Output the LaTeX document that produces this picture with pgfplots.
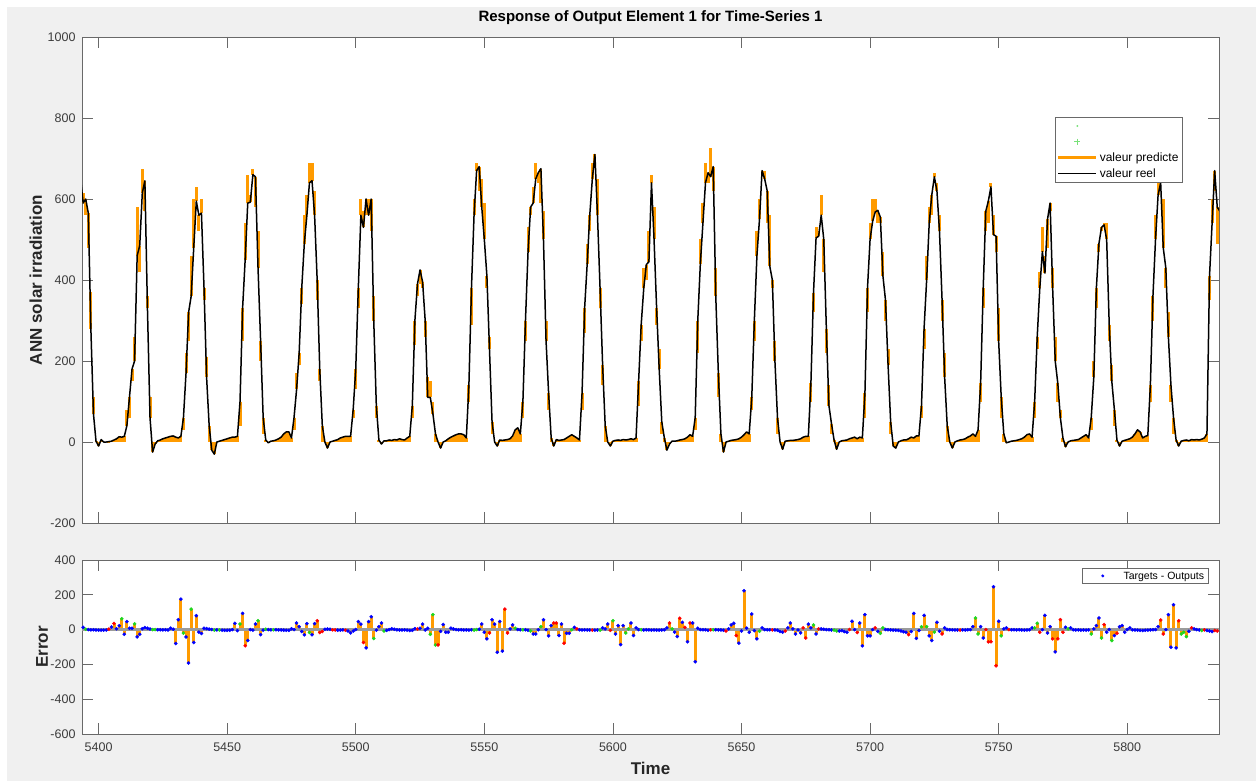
\documentclass[border=0pt]{standalone}
\usepackage{pgfplots}
\pgfplotsset{compat=1.18}
\usepackage{pgfplotstable}
\usepackage{fontspec}
\setmainfont{Liberation Sans}
\definecolor{orangeC}{RGB}{255,155,0}
\definecolor{bgC}{RGB}{240,240,240}
\definecolor{axC}{RGB}{105,105,105}
\definecolor{tkC}{RGB}{60,60,60}
\definecolor{zC}{RGB}{155,155,155}
\definecolor{gC}{RGB}{30,215,30}
\definecolor{lgC}{RGB}{120,225,120}

\pgfplotstableread{
t y p
5393 650 620
5394 590 615
5395 600 560
5396 565 480
5397 280 370
5398 70 110
5399 2 0
5400 -10 0
5401 6 0
5402 0 0
5403 0 0
5404 1 0
5405 2 0
5406 5 0
5407 8 0
5408 13 0
5409 12 0
5410 14 0
5411 40 80
5412 110 60
5413 180 150
5414 200 260
5415 460 580
5416 485 420
5417 615 675
5418 645 570
5419 330 360
5420 60 110
5421 -25 0
5422 -5 0
5423 3 0
5424 5 0
5425 8 0
5426 10 0
5427 12 0
5428 14 0
5429 15 0
5430 12 0
5431 10 0
5432 14 0
5433 60 30
5434 170 220
5435 320 250
5436 360 460
5437 480 600
5438 595 630
5439 560 520
5440 565 600
5441 380 350
5442 160 210
5443 40 0
5444 -20 0
5445 -30 0
5446 0 0
5447 2 0
5448 4 0
5449 6 0
5450 8 0
5451 10 0
5452 12 0
5453 12 0
5454 14 0
5455 100 40
5456 330 250
5457 450 540
5458 590 660
5459 592 610
5460 660 675
5461 655 580
5462 430 520
5463 250 200
5464 60 20
5465 5 0
5466 -2 0
5467 2 0
5468 3 0
5469 5 0
5470 8 0
5471 12 0
5472 20 0
5473 25 0
5474 25 0
5475 10 0
5476 60 30
5477 130 170
5478 220 190
5479 380 340
5480 490 560
5481 560 610
5482 640 690
5483 645 690
5484 560 620
5485 400 350
5486 180 150
5487 40 0
5488 0 0
5489 -15 0
5490 0 0
5491 2 0
5492 4 0
5493 6 0
5494 10 0
5495 12 0
5496 14 0
5497 14 0
5498 14 0
5499 80 60
5500 180 130
5501 380 330
5502 560 600
5503 530 570
5504 600 560
5505 560 600
5506 600 520
5507 300 360
5508 90 60
5509 5 0
5510 -5 0
5511 3 0
5512 3 0
5513 5 0
5514 4 0
5515 6 0
5516 5 0
5517 8 0
5518 6 0
5519 5 0
5520 10 0
5521 14 0
5522 90 60
5523 300 240
5524 390 360
5525 425 390
5526 395 380
5527 300 260
5528 110 160
5529 110 150
5530 70 100
5531 20 0
5532 0 0
5533 -15 0
5534 0 0
5535 3 0
5536 8 0
5537 12 0
5538 15 0
5539 18 0
5540 20 0
5541 20 0
5542 18 0
5543 10 0
5544 140 100
5545 380 290
5546 560 600
5547 670 690
5548 680 620
5549 580 650
5550 500 590
5551 410 380
5552 230 260
5553 50 20
5554 0 0
5555 -10 0
5556 5 0
5557 4 0
5558 5 0
5559 6 0
5560 8 0
5561 15 0
5562 30 0
5563 35 0
5564 20 0
5565 100 60
5566 300 250
5567 470 530
5568 580 560
5569 590 630
5570 650 690
5571 665 640
5572 675 590
5573 500 570
5574 250 300
5575 120 80
5576 10 0
5577 -10 0
5578 6 0
5579 4 0
5580 5 0
5581 6 0
5582 10 0
5583 14 0
5584 18 0
5585 14 0
5586 10 0
5587 5 0
5588 120 80
5589 330 270
5590 440 490
5591 560 520
5592 650 690
5593 710 680
5594 560 650
5595 380 330
5596 190 140
5597 40 0
5598 0 0
5599 -10 0
5600 2 0
5601 4 0
5602 5 0
5603 4 0
5604 6 0
5605 5 0
5606 6 0
5607 8 0
5608 6 0
5609 10 0
5610 150 90
5611 290 250
5612 380 430
5613 438 400
5614 445 520
5615 640 660
5616 500 580
5617 330 290
5618 180 230
5619 50 20
5620 10 0
5621 -20 0
5622 -5 0
5623 2 0
5624 2 0
5625 3 0
5626 5 0
5627 6 0
5628 8 0
5629 12 0
5630 18 0
5631 14 0
5632 60 30
5633 300 220
5634 440 500
5635 540 590
5636 640 690
5637 665 640
5638 655 725
5639 680 620
5640 360 430
5641 170 110
5642 20 0
5643 -25 0
5644 0 0
5645 2 0
5646 4 0
5647 5 0
5648 6 0
5649 8 0
5650 12 0
5651 18 0
5652 25 0
5653 20 0
5654 110 80
5655 300 250
5656 460 520
5657 550 600
5658 670 660
5659 650 670
5660 620 540
5661 434 560
5662 400 380
5663 200 250
5664 60 20
5665 0 0
5666 -18 0
5667 2 0
5668 3 0
5669 4 0
5670 4 0
5671 5 0
5672 6 0
5673 8 0
5674 12 0
5675 14 0
5676 14 0
5677 146 100
5678 368 320
5679 504 530
5680 508 520
5681 560 610
5682 500 420
5683 280 220
5684 90 140
5685 45 20
5686 5 0
5687 -18 0
5688 0 0
5689 3 0
5690 4 0
5691 5 0
5692 8 0
5693 10 0
5694 12 0
5695 8 0
5696 12 0
5697 10 0
5698 120 60
5699 380 320
5700 500 540
5701 545 600
5702 568 600
5703 572 540
5704 555 540
5705 410 470
5706 350 300
5707 190 230
5708 50 20
5709 -10 0
5710 -15 0
5711 0 0
5712 3 0
5713 5 0
5714 5 0
5715 8 0
5716 12 0
5717 10 0
5718 15 0
5719 15 0
5720 90 60
5721 280 230
5722 400 460
5723 540 580
5724 610 560
5725 655 665
5726 620 640
5727 520 560
5728 350 300
5729 160 220
5730 40 0
5731 0 0
5732 -15 0
5733 0 0
5734 3 0
5735 5 0
5736 6 0
5737 8 0
5738 12 0
5739 15 0
5740 20 0
5741 14 0
5742 30 0
5743 146 100
5744 380 330
5745 570 520
5746 595 540
5747 630 640
5748 512 560
5749 508 470
5750 250 330
5751 110 60
5752 20 0
5753 -2 0
5754 0 0
5755 2 0
5756 3 0
5757 4 0
5758 6 0
5759 8 0
5760 12 0
5761 18 0
5762 20 0
5763 12 0
5764 100 60
5765 260 230
5766 380 420
5767 470 530
5768 417 460
5769 550 480
5770 590 570
5771 380 430
5772 200 260
5773 145 100
5774 60 80
5775 10 0
5776 -12 0
5777 0 0
5778 3 0
5779 4 0
5780 5 0
5781 6 0
5782 10 0
5783 14 0
5784 18 0
5785 10 0
5786 60 30
5787 160 200
5788 380 330
5789 490 470
5790 530 520
5791 536 540
5792 500 540
5793 290 250
5794 150 190
5795 80 40
5796 5 0
5797 -10 0
5798 2 0
5799 4 0
5800 6 0
5801 8 0
5802 12 0
5803 20 0
5804 30 0
5805 25 0
5806 10 0
5807 14 0
5808 16 0
5809 140 100
5810 360 300
5811 500 560
5812 610 640
5813 640 660
5814 480 600
5815 430 380
5816 260 320
5817 140 100
5818 60 20
5819 5 0
5820 -10 0
5821 2 0
5822 4 0
5823 5 0
5824 3 0
5825 6 0
5826 5 0
5827 6 0
5828 5 0
5829 7 0
5830 10 0
5831 20 0
5832 410 350
5833 540 600
5834 670 620
5835 580 490
5836 570 580
}\topdata

\pgfplotstableread{
t e c
5393 15 b
5394 13 b
5395 2 g
5396 0 b
5397 -1 b
5398 -1 b
5399 -2 b
5400 -3 b
5401 -3 b
5402 -3 b
5403 -2 b
5404 3 r
5405 15 b
5406 35 r
5407 5 b
5408 22 b
5409 62 g
5410 -27 b
5411 46 b
5412 8 b
5413 8 b
5414 33 g
5415 -42 b
5416 -27 b
5417 5 b
5418 12 b
5419 8 b
5420 3 b
5421 0 g
5422 0 g
5423 -1 b
5424 -1 b
5425 -2 b
5426 -1 b
5427 -2 b
5428 8 b
5429 2 b
5430 -80 b
5431 57 b
5432 175 b
5433 -20 g
5434 -42 b
5435 -192 b
5436 118 g
5437 -74 b
5438 80 b
5439 -15 b
5440 -22 b
5441 8 b
5442 6 b
5443 3 b
5444 0 b
5445 -3 g
5446 -2 b
5447 -2 g
5448 -3 b
5449 -4 b
5450 -4 b
5451 -4 b
5452 0 b
5453 36 b
5454 -6 b
5455 32 g
5456 93 b
5457 -93 r
5458 -63 b
5459 0 b
5460 -3 b
5461 32 b
5462 51 g
5463 -29 b
5464 -3 b
5465 2 g
5466 0 b
5467 -1 b
5468 -1 g
5469 -1 b
5470 -2 b
5471 -2 b
5472 -3 b
5473 -4 b
5474 -4 b
5475 5 b
5476 0 b
5477 38 b
5478 17 b
5479 -11 b
5480 -30 b
5481 34 b
5482 -17 g
5483 -30 b
5484 34 b
5485 51 r
5486 -17 r
5487 -11 r
5488 2 b
5489 3 b
5490 2 b
5491 -1 r
5492 -2 r
5493 -3 b
5494 -3 b
5495 -2 b
5496 -4 r
5497 -8 b
5498 -19 b
5499 -8 b
5500 0 b
5501 46 b
5502 32 b
5503 -74 r
5504 -105 b
5505 46 b
5506 74 b
5507 -51 g
5508 -3 b
5509 17 b
5510 38 b
5511 -8 g
5512 -4 b
5513 0 b
5514 5 b
5515 2 b
5516 -1 b
5517 -2 b
5518 -2 b
5519 -2 b
5520 -3 b
5521 -5 b
5522 -4 b
5523 5 b
5524 3 r
5525 8 b
5526 32 b
5527 -2 b
5528 8 b
5529 -27 g
5530 86 g
5531 -88 g
5532 -88 r
5533 -10 b
5534 29 b
5535 -15 b
5536 -15 b
5537 8 b
5538 4 b
5539 0 b
5540 -1 b
5541 -1 b
5542 -2 b
5543 -2 b
5544 -3 b
5545 -1 b
5546 -3 g
5547 0 g
5548 2 b
5549 32 b
5550 -15 b
5551 -53 b
5552 -19 r
5553 57 b
5554 32 b
5555 -130 b
5556 46 b
5557 -124 b
5558 118 r
5559 -19 r
5560 4 b
5561 27 b
5562 8 g
5563 0 b
5564 -1 b
5565 -1 g
5566 -1 b
5567 -4 b
5568 -8 g
5569 -25 b
5570 -25 b
5571 -1 b
5572 17 g
5573 57 b
5574 0 b
5575 -36 b
5576 23 b
5577 38 r
5578 38 r
5579 -34 b
5580 32 b
5581 -78 r
5582 -21 b
5583 -21 b
5584 -1 g
5585 13 b
5586 4 r
5587 -1 b
5588 -2 b
5589 -1 b
5590 -2 b
5591 -2 b
5592 -3 r
5593 -3 b
5594 -2 b
5595 -3 g
5596 10 b
5597 4 b
5598 32 b
5599 -4 r
5600 51 g
5601 -25 b
5602 23 b
5603 -86 b
5604 23 b
5605 -19 g
5606 4 g
5607 38 b
5608 -34 b
5609 10 b
5610 0 b
5611 -1 g
5612 -2 b
5613 -1 b
5614 -2 b
5615 -3 b
5616 -2 b
5617 -3 b
5618 -3 b
5619 -2 b
5620 -1 b
5621 10 b
5622 38 r
5623 4 g
5624 -15 b
5625 -40 b
5626 65 r
5627 42 b
5628 13 r
5629 -70 b
5630 38 r
5631 38 b
5632 -185 b
5633 8 b
5634 0 b
5635 -1 b
5636 -1 b
5637 -4 b
5638 -1 r
5639 -1 g
5640 -1 b
5641 -2 b
5642 -2 b
5643 -4 b
5644 -8 r
5645 4 b
5646 27 b
5647 36 b
5648 -34 r
5649 -78 b
5650 -8 b
5651 223 b
5652 8 b
5653 -15 b
5654 90 b
5655 -6 b
5656 -53 b
5657 -10 g
5658 10 b
5659 0 b
5660 -1 b
5661 -1 b
5662 -2 r
5663 -2 b
5664 -4 b
5665 -11 b
5666 -15 b
5667 -8 r
5668 10 b
5669 38 b
5670 4 b
5671 -25 b
5672 -2 b
5673 -19 b
5674 10 r
5675 -48 r
5676 32 b
5677 10 b
5678 27 g
5679 -25 b
5680 4 r
5681 4 b
5682 2 b
5683 0 b
5684 -1 b
5685 -2 b
5686 -3 g
5687 -8 g
5688 -8 b
5689 -6 b
5690 -11 b
5691 -15 b
5692 0 r
5693 48 b
5694 0 b
5695 -17 r
5696 38 b
5697 -93 b
5698 86 b
5699 -36 b
5700 -36 b
5701 0 b
5702 10 r
5703 -10 b
5704 -21 g
5705 10 g
5706 0 b
5707 -1 b
5708 -2 b
5709 -3 b
5710 -4 b
5711 -5 b
5712 -8 b
5713 -12 b
5714 -15 b
5715 -29 r
5716 -11 b
5717 93 b
5718 -50 b
5719 -5 b
5720 17 g
5721 82 b
5722 17 g
5723 -36 b
5724 -63 b
5725 -15 g
5726 42 b
5727 -10 b
5728 -25 r
5729 10 b
5730 0 b
5731 -1 b
5732 -1 b
5733 -2 b
5734 -2 b
5735 -3 r
5736 -2 b
5737 -2 b
5738 -1 b
5739 0 b
5740 17 b
5741 67 g
5742 -25 g
5743 17 b
5744 -48 b
5745 0 r
5746 -70 r
5747 -70 r
5748 246 b
5749 -208 r
5750 48 b
5751 -36 g
5752 4 b
5753 10 b
5754 0 r
5755 -1 b
5756 -1 b
5757 -2 b
5758 -1 b
5759 -2 b
5760 -3 b
5761 -2 b
5762 -1 b
5763 10 b
5764 10 g
5765 36 g
5766 -15 r
5767 0 b
5768 82 b
5769 -19 b
5770 17 b
5771 -53 r
5772 -128 b
5773 -53 r
5774 57 r
5775 -15 r
5776 13 b
5777 4 g
5778 10 b
5779 -1 b
5780 -2 b
5781 -2 b
5782 -3 b
5783 -2 b
5784 -3 b
5785 -2 b
5786 -25 g
5787 4 b
5788 23 b
5789 67 b
5790 -48 g
5791 29 r
5792 -15 b
5793 0 b
5794 -63 g
5795 -34 b
5796 -21 r
5797 17 b
5798 23 b
5799 -15 b
5800 0 b
5801 10 b
5802 -1 b
5803 -2 b
5804 -3 b
5805 -4 b
5806 -5 b
5807 -4 b
5808 -3 b
5809 -2 b
5810 -1 b
5811 0 b
5812 17 b
5813 55 r
5814 -25 r
5815 0 b
5816 86 b
5817 -101 b
5818 143 b
5819 -105 b
5820 51 r
5821 -25 g
5822 -15 g
5823 -40 g
5824 -10 b
5825 10 r
5826 4 b
5827 0 b
5828 -2 b
5829 -5 g
5830 -2 r
5831 -5 b
5832 -8 b
5833 -11 b
5834 -5 r
5835 -8 r
}\errdata

\pgfplotsset{
  common/.style={
    scale only axis, width=1137pt,
    xmin=5393.55, xmax=5835.7,
    xtick={5400,5450,...,5800},
    tick align=inside, major tick length=11pt,
    axis line style={draw=axC, line width=0.8pt},
    tick style={draw=axC, line width=0.8pt},
    axis background/.style={fill=white},
    ticklabel style={font=\fontsize{12.5}{14}\selectfont, text=tkC},
    /pgf/number format/assume math mode=true,
    /pgf/number format/set thousands separator={},
    yticklabel style={xshift=-3pt},
    label style={font=\fontsize{17}{19}\selectfont\bfseries, text=black!85},
    legend cell align=left,
    legend image code/.code={\path[draw=none,fill=none] (0pt,-1pt) (38pt,1pt);\draw[mark repeat=2,mark phase=2,##1] plot coordinates {(0pt,0pt) (19pt,0pt) (38pt,0pt)};},
  }
}

\begin{document}
\begin{tikzpicture}
\useasboundingbox (0pt,0pt) rectangle (1256pt,-781pt);
\fill[white] (0pt,0pt) rectangle (1256pt,-781pt);
\fill[bgC] (7pt,-7pt) rectangle (1256pt,-781pt);

\begin{axis}[common, at={(82pt,-37pt)}, anchor=north west, height=486pt,
  ymin=-200, ymax=1000, ytick={-200,0,...,1000},
  xticklabels={},
  title={Response of Output Element 1 for Time-Series 1},
  title style={font=\fontsize{15}{17}\selectfont\bfseries, at={(axis description cs:0.5,1)}, anchor=base, yshift=9.5pt},
  ylabel={ANN solar irradiation},
  ylabel style={at={(axis description cs:-0.0352,0.5)}, anchor=base},
  legend style={at={(axis description cs:0.8557,0.8354)}, anchor=north west, draw=axC, fill=white,
    font=\fontsize{12}{14}\selectfont, inner xsep=2pt, inner ysep=1pt, nodes={inner sep=2.2pt}, row sep=0pt},
]
\addplot[draw=none, mark=none, forget plot,
  error bars/.cd, y dir=both, y explicit, error mark=none,
  error bar style={draw=orangeC, line width=3pt}]
  table[x=t, y=y, y error plus expr={max(\thisrow{p}-\thisrow{y},0)}, y error minus expr={max(\thisrow{y}-\thisrow{p},0)}] {\topdata};
\addplot[black, line width=1.5pt, mark=none, forget plot, line join=round] table[x=t, y=y] {\topdata};
\addlegendimage{only marks, mark=*, mark size=0.7pt, lgC}
\addlegendentry{\strut}
\addlegendimage{only marks, mark=+, mark size=3pt, lgC, line width=0.8pt}
\addlegendentry{\strut}
\addlegendimage{orangeC, line width=2.4pt}
\addlegendentry{\strut valeur predicte}
\addlegendimage{black, line width=1.2pt}
\addlegendentry{\strut valeur reel}
\end{axis}

\begin{axis}[common, at={(82pt,-560pt)}, anchor=north west, height=174pt,
  ymin=-600, ymax=400, ytick={-600,-400,...,400},
  xticklabel style={yshift=-5pt},
  xlabel={Time}, xlabel style={at={(axis description cs:0.5,-0.2299)}, anchor=base},
  ylabel={Error}, ylabel style={at={(axis description cs:-0.0299,0.5)}, anchor=base},
  legend style={at={(axis description cs:0.9903,0.954)}, anchor=north east, draw=axC, fill=white,
    font=\fontsize{10.5}{12}\selectfont, inner xsep=2pt, inner ysep=1pt, nodes={inner sep=1.75pt}},
]
\addplot[ycomb, draw=orangeC, line width=3pt, mark=none, forget plot] table[x=t, y=e] {\errdata};
\addplot[draw=zC, line width=3pt, mark=none, forget plot] coordinates {(5390,0) (5840,0)};
\addplot[scatter, only marks, mark=*, mark size=1.6pt, forget plot, point meta=explicit symbolic,
  scatter/classes={b={mark=*, draw=blue, fill=blue}, g={mark=*, draw=gC, fill=gC}, r={mark=*, draw=red, fill=red}}]
  table[x=t, y=e, meta=c] {\errdata};
\addlegendimage{only marks, mark=*, mark size=1.3pt, blue}
\addlegendentry{\strut Targets - Outputs}
\end{axis}
\end{tikzpicture}
\end{document}
